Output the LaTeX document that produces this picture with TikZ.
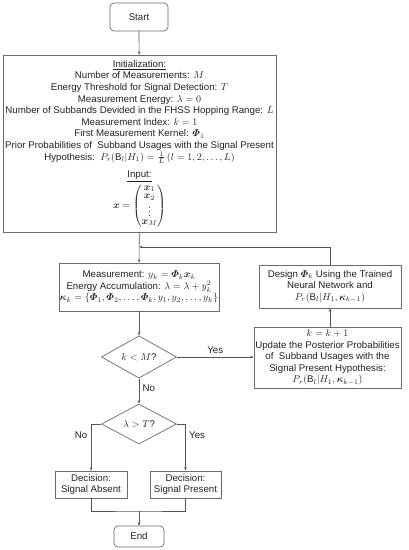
\documentclass[tikz,border=0pt]{standalone}
\usepackage{amsmath,bm}
\usepackage{fontspec}
\setmainfont{Liberation Sans}
\usetikzlibrary{shapes.geometric,arrows.meta}
\definecolor{linec}{HTML}{555555}
\definecolor{boxc}{HTML}{6A6A6A}
\definecolor{txtc}{HTML}{222222}
\begin{document}
\begin{tikzpicture}[x=1pt,y=-1pt,
  font=\fontsize{9.7}{11.6}\selectfont, text=txtc,
  box/.style={draw=boxc, line width=0.7pt, align=center, inner sep=0pt},
  term/.style={box, rounded corners=4pt},
  dec/.style={draw=boxc, line width=0.7pt, diamond, inner sep=0pt, minimum width=75pt, minimum height=40pt, align=center},
  conn/.style={draw=linec, line width=0.7pt},
  arr/.style={conn, -{Stealth[length=3.5pt,width=2.6pt]}},
  lab/.style={font=\fontsize{9.7}{11}\selectfont}]
\useasboundingbox (0,0) rectangle (408,550);
\node[term, minimum width=58pt, minimum height=28pt] (start) at (139,17) {Start};
\node[box, minimum width=273pt, minimum height=177pt] (init) at (139.5,143.5) {%
\underline{Initialization:}\\
Number of Measurements: $M$\\
Energy Threshold for Signal Detection: $T$\\
Measurement Energy: $\lambda=0$\\
Number of Subbands Devided in the FHSS Hopping Range: $L$\\
Measurement Index: $k=1$\\
First Measurement Kernel: $\boldsymbol{\varPhi}_1$\\
Prior Probabilities of\ \ Subband Usages with the Signal Present\\
Hypothesis:\ \ $P_r(\mathrm{B}_l|H_1)=\frac{1}{L}\,(l=1,2,\dots,L)$\\[6pt]
\underline{Input:}\\[2pt]
$\renewcommand{\arraystretch}{0.7}\boldsymbol{x}=\begin{pmatrix}\boldsymbol{x}_1\\\boldsymbol{x}_2\\\vdots\\\boldsymbol{x}_M\end{pmatrix}$};
\node[box, minimum width=160pt, minimum height=48pt] (meas) at (139,287) {%
Measurement: $y_k=\boldsymbol{\varPhi}_k\boldsymbol{x}_k$\\
Energy Accumulation: $\lambda=\lambda+y_k^2$\\
$\boldsymbol{\kappa}_k=\{\boldsymbol{\varPhi}_1,\boldsymbol{\varPhi}_2,\dots,\boldsymbol{\varPhi}_k,y_1,y_2,\dots,y_k\}$};
\node[dec] (d1) at (139,357) {$k<M$?};
\node[box, minimum width=142pt, minimum height=43pt] (design) at (330,286.5) {%
Design $\boldsymbol{\varPhi}_k$ Using the Trained\\
Neural Network and\\
$P_r(\mathrm{B}_l|H_1,\boldsymbol{\kappa}_{k-1})$};
\node[box, minimum width=147pt, minimum height=61pt] (update) at (327.5,357.5) {%
$k=k+1$\\
Update the Posterior Probabilities\\
of\ \ Subband Usages with the\\
Signal Present Hypothesis:\\
$P_r(\mathrm{B}_l|H_1,\boldsymbol{\kappa}_{k-1})$};
\node[dec] (d2) at (139,424) {$\lambda>T$?};
\node[box, minimum width=72pt, minimum height=27pt] (absent) at (91,484.5) {Decision:\\Signal Absent};
\node[box, minimum width=71pt, minimum height=27pt] (present) at (185.5,484.5) {Decision:\\Signal Present};
\node[term, minimum width=50pt, minimum height=21pt] (end) at (139,536.5) {End};
\coordinate (j) at (139,247);
\coordinate (m) at (139,511);
\draw[arr] (start) -- (init);
\draw[arr] (init) -- (meas);
\draw[arr] (design.north) |- (j);
\draw[arr] (meas) -- (d1);
\draw[arr] (d1.east) -- node[lab, above, pos=0.5] (yes1) {Yes} (update.west |- d1.east);
\draw[arr] (design.south |- update.north) -- (design.south);
\draw[arr] (d1.south) -- node[lab, right, pos=0.4] (no1) {No} (d2.north);
\draw[arr] (d2.west) -| node[lab, left, pos=0.62] (no2) {No} (absent.north);
\draw[arr] (d2.east) -| node[lab, right, pos=0.62] (yes2) {Yes} (present.north);
\draw[conn] (absent.south) |- (m) -| (present.south);
\draw[arr] (m) -- (end);
\end{tikzpicture}
\end{document}
